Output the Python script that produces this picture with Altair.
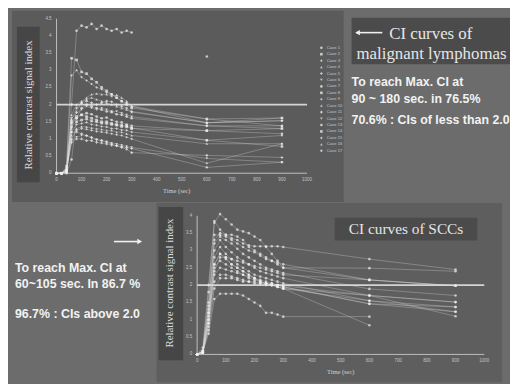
import altair as alt
import pandas as pd

# ---------------- data ----------------
TIMES = [0, 20, 40, 60, 80, 100, 120, 140, 160, 180, 200, 220, 240, 260, 280, 300, 600, 900]

# malignant lymphomas (top panel)
LYM_01 = [0, 0, 0.1, 2.0, 4.15, 4.3, 4.25, 4.35, 4.2, 4.3, 4.2, 4.15, 4.2, 4.1, 4.15, 4.1, None, None]
LYM_02 = [0, 0, 0.2, 3.35, 3.3, 2.95, 2.9, 2.75, 2.65, 2.5, 2.4, 2.3, 2.2, 2.1, 2.0, 1.9, 1.58, 1.61]
LYM_03 = [0, 0, 0.15, 2.85, 3.0, 2.8, 2.7, 2.6, 2.5, 2.45, 2.35, 2.3, 2.2, 2.1, 2.05, 1.95, 1.47, 1.53]
LYM_04 = [0, 0, 0.1, 1.3, 1.8, 2.05, 2.2, 2.3, 2.32, 2.3, 2.3, 2.25, 2.28, 2.2, 2.1, 1.95, 1.58, 1.38]
LYM_05 = [0, 0, 0.1, 1.55, 1.9, 2.05, 2.1, 2.05, 2.0, 2.05, 2.1, 2.08, 2.0, 1.95, 1.9, 1.8, 1.47, 1.53]
LYM_06 = [0, 0, 0.1, 1.6, 1.75, 1.85, 1.95, 1.9, 1.85, 1.9, 1.85, 1.8, 1.8, 1.75, 1.7, 1.65, 1.38, 1.30]
LYM_07 = [0, 0, 0.1, 1.45, 1.6, 1.7, 1.75, 1.72, 1.65, 1.6, 1.62, 1.55, 1.5, 1.48, 1.42, 1.38, 1.24, 1.15]
LYM_08 = [0, 0, 0.05, 1.35, 1.5, 1.55, 1.58, 1.52, 1.5, 1.46, 1.45, 1.42, 1.4, 1.36, 1.35, 1.3, 1.24, 1.30]
LYM_09 = [0, 0, 0.1, 1.2, 1.42, 1.45, 1.48, 1.42, 1.4, 1.36, 1.35, 1.3, 1.3, 1.26, 1.25, 1.2, 0.96, 1.10]
LYM_10 = [0, 0, 0.05, 1.1, 1.3, 1.36, 1.35, 1.32, 1.3, 1.28, 1.25, 1.25, 1.2, 1.2, 1.15, 1.1, 0.86, 0.86]
LYM_11 = [0, 0, 0.05, 1.2, 1.2, 1.15, 1.1, 1.05, 0.98, 0.95, 0.9, 0.85, 0.8, 0.75, 0.7, 0.6, 0.52, 0.46]
LYM_12 = [0, 0, 0.05, 0.95, 1.05, 1.1, 1.08, 1.02, 0.98, 0.95, 0.92, 0.88, 0.85, 0.82, 0.78, 0.75, 0.43, 0.32]
LYM_13 = [0, 0, 0.0, 0.4, 1.6, 1.9, 2.0, 1.95, 1.9, 1.85, 1.8, 1.78, 1.72, 1.7, 1.65, 1.6, 1.38, 1.38]
LYM_14 = [0, 0, 0.05, 1.5, 1.65, 1.7, 1.65, 1.6, 1.55, 1.5, 1.5, 1.45, 1.42, 1.4, 1.38, 1.32, 0.96, 0.78]
LYM_15 = [0, 0, 0.1, 1.0, 1.25, 1.3, 1.28, 1.25, 1.22, 1.2, 1.18, 1.15, 1.12, 1.1, 1.05, 1.0, 0.29, 0.86]
LYM_16 = [0, 0, 0.05, 1.7, 2.0, 2.1, 2.15, 2.2, 2.15, 2.1, 2.05, 2.0, 1.95, 1.9, 1.85, 1.78, 1.47, 1.61]
LYM_17 = [0, 0, 0.1, 0.9, 1.0, 1.0, 0.95, 0.95, 0.9, 0.88, 0.85, 0.82, 0.8, 0.78, 0.75, 0.72, 0.17, 0.32]
LYM = [LYM_01, LYM_02, LYM_03, LYM_04, LYM_05, LYM_06, LYM_07, LYM_08, LYM_09,
       LYM_10, LYM_11, LYM_12, LYM_13, LYM_14, LYM_15, LYM_16, LYM_17]
# isolated late point of case 1 (no connecting line in the original)
LYM_01_LATE_T = [600]
LYM_01_LATE_V = [3.4]

# squamous cell carcinomas (bottom panel)
SCC_01 = [0, 0.2, 2.0, 3.8, 4.05, 3.9, 3.75, 3.6, 3.55, 3.5, 3.4, 3.3, 3.1, 2.9, 2.7, 2.5, 2.49, 2.4]
SCC_02 = [0, 0.1, 1.8, 3.85, 3.6, 3.45, 3.45, 3.4, 3.3, 3.1, 3.0, 2.9, 2.8, 2.7, 2.6, 2.5, 2.15, 1.98]
SCC_03 = [0, 0.1, 1.5, 3.45, 3.45, 3.4, 3.3, 3.2, 3.1, 3.0, 2.95, 2.85, 2.75, 2.7, 2.65, 2.6, 2.15, 1.98]
SCC_04 = [0, 0.1, 1.3, 3.2, 3.4, 3.3, 3.2, 3.05, 2.9, 2.8, 2.7, 2.6, 2.5, 2.45, 2.4, 2.35, 1.89, 1.7]
SCC_05 = [0, 0.05, 1.2, 3.0, 3.3, 3.1, 2.95, 2.8, 2.7, 2.6, 2.5, 2.4, 2.35, 2.3, 2.25, 2.2, 1.7, 1.51]
SCC_06 = [0, 0.05, 1.0, 2.8, 3.1, 2.9, 2.75, 2.6, 2.5, 2.4, 2.3, 2.25, 2.2, 2.15, 2.1, 2.05, 1.55, 1.37]
SCC_07 = [0, 0.05, 1.1, 2.6, 2.9, 2.75, 2.6, 2.5, 2.4, 2.3, 2.2, 2.15, 2.1, 2.05, 2.0, 1.95, 1.46, 1.23]
SCC_08 = [0, 0.05, 0.9, 2.5, 2.7, 2.6, 2.5, 2.4, 2.3, 2.25, 2.2, 2.1, 2.05, 2.0, 1.95, 1.9, 1.7, 1.1]
SCC_09 = [0, 0.1, 1.0, 2.3, 2.5, 2.45, 2.4, 2.35, 2.3, 2.2, 2.15, 2.1, 2.05, 2.05, 2.0, 1.95, 1.46, 1.37]
SCC_10 = [0, 0.05, 0.8, 2.1, 2.3, 2.3, 2.25, 2.2, 2.15, 2.1, 2.1, 2.05, 2.05, 2.0, 1.95, 1.9, 1.55, 1.23]
SCC_11 = [0, 0.1, 0.6, 1.6, 1.75, 1.75, 1.75, 1.75, 1.7, 1.6, 1.5, 1.4, 1.2, 1.2, 1.15, 1.09, 1.09, None]
SCC_12 = [0, 0.1, 1.2, 2.6, 2.9, 2.8, 2.6, 2.5, 2.4, 2.3, 2.2, 2.1, 2.05, 2.0, 1.95, 1.9, 0.84, None]
SCC_13 = [0, 0.1, 1.4, 3.3, 3.5, 3.45, 3.35, 3.3, 3.2, 3.15, 3.12, 3.12, 3.12, 3.12, 3.12, 3.1, 2.75, 2.45]
SCC_14 = [0, 0.05, 0.7, 1.9, 2.2, 2.2, 2.2, 2.15, 2.1, 2.1, 2.05, 2.05, 2.0, 2.0, 2.0, 1.98, 1.7, 1.51]
SCC_15 = [0, 0.05, 0.9, 2.4, 2.8, 2.8, 2.75, 2.7, 2.65, 2.6, 2.55, 2.5, 2.45, 2.4, 2.35, 2.3, 2.15, 1.98]
SCC = [SCC_01, SCC_02, SCC_03, SCC_04, SCC_05, SCC_06, SCC_07, SCC_08,
       SCC_09, SCC_10, SCC_11, SCC_12, SCC_13, SCC_14, SCC_15]

X_TICKS = [0, 100, 200, 300, 400, 500, 600, 700, 800, 900, 1000]
Y_TICKS_TOP = [0, 0.5, 1, 1.5, 2, 2.5, 3, 3.5, 4, 4.5]
Y_TICKS_BOTTOM = [0, 0.5, 1, 1.5, 2, 2.5, 3, 3.5, 4]
THRESHOLD = 2.0


def to_long(cases):
    rows = []
    for i, vals in enumerate(cases):
        for t, v in zip(TIMES, vals):
            if v is not None:
                rows.append({"case": f"Case {i + 1}", "t": t, "v": v})
    return pd.DataFrame(rows)


lym_df = to_long(LYM)
lym_pts_df = pd.concat([lym_df, pd.DataFrame({"case": ["Case 1"] * len(LYM_01_LATE_T),
                                              "t": LYM_01_LATE_T, "v": LYM_01_LATE_V})])
scc_df = to_long(SCC)
case_order = [f"Case {i + 1}" for i in range(len(LYM))]

SERIF = "Liberation Serif"
SANS = "Liberation Sans"
W, H = 507, 376


def panel(df, pts_df, xs, ys, ytick_vals, x_label_pos, legend=None):
    X = lambda f="t", **k: alt.X(f, type="quantitative", scale=xs, axis=None, **k)
    Y = lambda f="v", **k: alt.Y(f, type="quantitative", scale=ys, axis=None, **k)
    lines = alt.Chart(df).mark_line(color="#dddddd", strokeWidth=0.8, opacity=0.4).encode(
        x=X(), y=Y(), detail="case:N")
    if legend is not None:
        pts = alt.Chart(pts_df).mark_point(filled=True, color="#eeeeee", size=7, opacity=0.75).encode(
            x=X(), y=Y(),
            shape=alt.Shape("case:N", sort=case_order,
                            scale=alt.Scale(range=["circle", "square", "diamond", "triangle-up",
                                                   "cross", "triangle-down"]),
                            legend=legend))
    else:
        pts = alt.Chart(pts_df).mark_point(filled=True, color="#eeeeee", size=7, opacity=0.7,
                                           shape="circle").encode(x=X(), y=Y())
    axes_df = pd.DataFrame({"x0": [0, 0], "x1": [0, X_TICKS[-1]],
                            "y0": [0, 0], "y1": [ytick_vals[-1], 0]})
    axes = alt.Chart(axes_df).mark_rule(color="#bdbdbd", strokeWidth=1).encode(
        x=X("x0"), x2="x1", y=Y("y0"), y2="y1")
    thr_df = pd.DataFrame({"x0": [0], "x1": [X_TICKS[-1]], "y0": [THRESHOLD]})
    thr = alt.Chart(thr_df).mark_rule(color="#d4d4d4", strokeWidth=1.8).encode(
        x=X("x0"), x2="x1", y=Y("y0"))
    xt = alt.Chart(pd.DataFrame({"t": X_TICKS})).mark_text(
        fontSize=4.5, color="#c4c4c4", font=SANS, dy=7).encode(
        x=X(), y=alt.Y(datum=0, type="quantitative", scale=ys, axis=None), text="t:Q")
    yt = alt.Chart(pd.DataFrame({"v": ytick_vals})).mark_text(
        fontSize=4.5, color="#c4c4c4", font=SANS, align="right", dx=-5).encode(
        x=alt.X(datum=0, type="quantitative", scale=xs, axis=None), y=Y(), text="v:Q")
    tl = alt.Chart(pd.DataFrame({"t": [x_label_pos]})).mark_text(
        text="Time (sec)", fontSize=6.5, color="#d0d0d0", font=SERIF, dy=18).encode(
        x=X(), y=alt.Y(datum=0, type="quantitative", scale=ys, axis=None))
    return alt.layer(axes, thr, lines, pts, xt, yt, tl)


top_x = alt.Scale(domain=[0, 1000], range=[49, 302], nice=False, zero=False)
top_y = alt.Scale(domain=[0, 4.5], range=[165, 9], nice=False, zero=False)
bot_x = alt.Scale(domain=[0, 1000], range=[191, 481], nice=False, zero=False)
bot_y = alt.Scale(domain=[0, 4], range=[348, 208], nice=False, zero=False)

top_legend = alt.Legend(orient="none", legendX=314, legendY=36, title=None,
                        labelFontSize=4.2, labelColor="#c8c8c8", labelFont=SANS,
                        symbolSize=7, symbolFillColor="#eeeeee", symbolStrokeColor="#eeeeee",
                        rowPadding=1.5, clipHeight=4.6, padding=0, symbolOffset=0,
                        labelOffset=3)

top_panel = panel(lym_df, lym_pts_df, top_x, top_y, Y_TICKS_TOP, 480, legend=top_legend)
bottom_panel = panel(scc_df, scc_df, bot_x, bot_y, Y_TICKS_BOTTOM, 500)


def box(x, x2, y, y2, color):
    return alt.Chart().mark_rect(color=color).encode(
        x=alt.value(x), x2=alt.value(x2), y=alt.value(y), y2=alt.value(y2))


def label(text, x, y, size, font, color="#eeeeee", weight="normal", align="left", angle=0):
    return alt.Chart().mark_text(text=text, fontSize=size, font=font, color=color,
                                 fontWeight=weight, align=align, baseline="middle",
                                 angle=angle).encode(x=alt.value(x), y=alt.value(y))


decor = [
    box(4, 339, 1, 194, "#5b5b5b"),
    box(9, 32, 17, 174, "#464646"),
    box(347, 507, 8, 55, "#4b4b4b"),
    box(150, 499, 195, 376, "#5e5e5e"),
    box(152, 177, 199, 354, "#464646"),
    box(330, 474, 210, 233, "#4b4b4b"),
    label("Relative contrast signal index", 21, 96, 11, SERIF, "#dcdcdc", align="center", angle=270),
    label("Relative contrast signal index", 164, 276, 11, SERIF, "#dcdcdc", align="center", angle=270),
    alt.Chart().mark_rule(color="#f0f0f0", strokeWidth=1.6).encode(
        x=alt.value(352), x2=alt.value(378), y=alt.value(23)),
    alt.Chart().mark_point(shape="triangle-left", filled=True, color="#f0f0f0", size=30,
                           opacity=1).encode(x=alt.value(353), y=alt.value(23)),
    label("CI curves of", 385, 24, 17, SERIF, "#e6e6e6"),
    label("malignant lymphomas", 352, 45, 17, SERIF, "#e6e6e6"),
    label("To reach Max. CI at", 347, 73, 12.5, SANS, "#f2f2f2", "bold"),
    label("90 ~ 180 sec. in 76.5%", 347, 90, 12.5, SANS, "#f2f2f2", "bold"),
    label("70.6% : CIs of less than 2.0", 347, 111, 12.5, SANS, "#f2f2f2", "bold"),
    label("CI curves of SCCs", 402, 221, 15.5, SERIF, "#e6e6e6", align="center"),
    alt.Chart().mark_rule(color="#f0f0f0", strokeWidth=1.6).encode(
        x=alt.value(107), x2=alt.value(133), y=alt.value(234)),
    alt.Chart().mark_point(shape="triangle-right", filled=True, color="#f0f0f0", size=30,
                           opacity=1).encode(x=alt.value(133), y=alt.value(234)),
    label("To reach Max. CI at", 7, 261, 12.5, SANS, "#f2f2f2", "bold"),
    label("60~105 sec. In 86.7 %", 7, 277, 12.5, SANS, "#f2f2f2", "bold"),
    label("96.7% : CIs above 2.0", 7, 307, 12.5, SANS, "#f2f2f2", "bold"),
]

chart = alt.layer(*decor, top_panel, bottom_panel).resolve_scale(
    x="independent", y="independent", shape="independent"
).properties(
    width=W, height=H, padding=0, autosize=alt.AutoSizeParams(type="none"),
    background="#6c6c6c"
).configure_view(stroke=None)

chart.save("out.html", embed_options={"renderer": "svg", "actions": False})
